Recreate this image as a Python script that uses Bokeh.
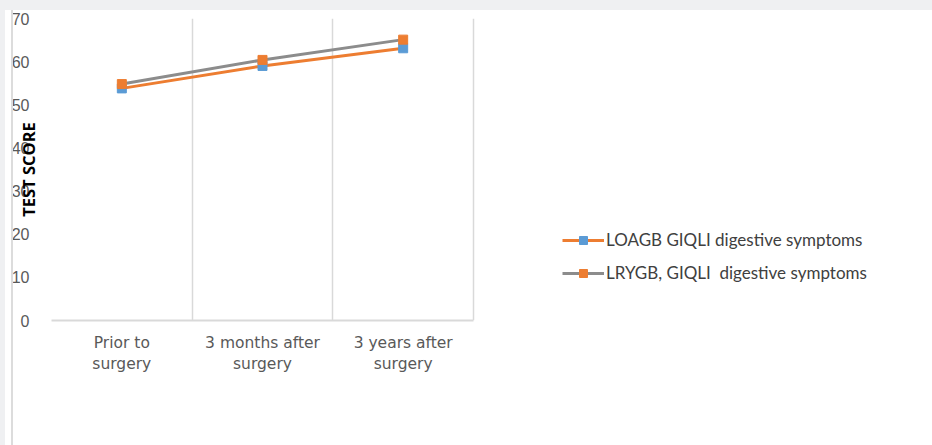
import math
from bokeh.plotting import figure
from bokeh.models import (Range1d, FixedTicker, Legend, LegendItem, Div)
from bokeh.layouts import column, row
from bokeh.embed import file_html
from bokeh.resources import INLINE

categories = ["Prior to\nsurgery", "3 months after\nsurgery", "3 years after\nsurgery"]
x_pos = [0.5, 1.5, 2.5]
loagb = [53.8, 59.0, 63.1]
lrygb = [54.8, 60.4, 65.1]
y_ticks = [0, 10, 20, 30, 40, 50, 60, 70]
series_names = ["LOAGB GIQLI digestive symptoms", "LRYGB, GIQLI  digestive symptoms"]

ORANGE = "#ED7D31"
BLUE = "#5B9BD5"
GRAY = "#8C8C8C"

FRAME_W = 875
CAT_W = 422 / 3.0

p = figure(frame_width=FRAME_W, frame_height=302, output_backend="svg", toolbar_location=None,
           x_range=Range1d(0, FRAME_W / CAT_W), y_range=Range1d(0, 70),
           min_border_left=37, min_border_top=8, min_border_right=7, min_border_bottom=125)
p.outline_line_color = None
p.background_fill_color = "white"
p.border_fill_color = "white"

p.ygrid.grid_line_color = None
p.xgrid.ticker = FixedTicker(ticks=[0, 1, 2, 3])
p.xgrid.grid_line_color = "#D9D9D9"
p.xgrid.grid_line_width = 1.5

p.xaxis.ticker = FixedTicker(ticks=x_pos)
p.xaxis.bounds = (0, 3)
p.xaxis.major_label_overrides = {x: c for x, c in zip(x_pos, categories)}
p.xaxis.axis_line_color = "#D9D9D9"
p.xaxis.axis_line_width = 2
p.xaxis.major_tick_line_color = None
p.xaxis.minor_tick_line_color = None
p.xaxis.major_label_text_font = "DejaVu Sans"
p.xaxis.major_label_text_font_size = "15.5px"
p.xaxis.major_label_text_color = "#595959"
p.xaxis.major_label_standoff = 7

p.yaxis.ticker = FixedTicker(ticks=y_ticks)
p.yaxis.axis_line_color = None
p.yaxis.major_tick_line_color = None
p.yaxis.minor_tick_line_color = None
p.yaxis.major_label_text_font = "Liberation Sans"
p.yaxis.major_label_text_font_size = "16px"
p.yaxis.major_label_text_color = "#595959"
p.yaxis.major_label_standoff = 16
p.yaxis.axis_label = "TEST SCORE"
p.yaxis.axis_label_standoff = -31
p.yaxis.axis_label_text_font = "Open Sans"
p.yaxis.axis_label_text_font_style = "bold"
p.yaxis.axis_label_text_font_size = "16.5px"
p.yaxis.axis_label_text_color = "#000000"

l1 = p.line(x_pos, loagb, line_color=ORANGE, line_width=3)
m1 = p.scatter(x_pos, loagb, marker="square", size=9, fill_color=BLUE, line_color=BLUE)
l2 = p.line(x_pos, lrygb, line_color=GRAY, line_width=3)
m2 = p.scatter(x_pos, lrygb, marker="square", size=9, fill_color=ORANGE, line_color=ORANGE)

legend = Legend(items=[LegendItem(label=series_names[0], renderers=[l1, m1]),
                       LegendItem(label=series_names[1], renderers=[l2, m2])],
                location=(511, 37), orientation="vertical",
                glyph_width=42, glyph_height=20, spacing=12, padding=0, margin=0,
                label_standoff=2, border_line_color=None, background_fill_alpha=0,
                label_text_font="Lato", label_text_font_size="17px",
                label_text_color="#404040")
p.add_layout(legend, "center")

top_band = Div(width=932, height=10, margin=0, styles={"background-color": "#EFF0F2"})
left1 = Div(width=5, height=435, margin=0, styles={"background-color": "#EFF0F2"})
left2 = Div(width=6, height=435, margin=0, styles={"background-color": "#FFFFFF"})
left3 = Div(width=2, height=435, margin=0, styles={"background-color": "#DCDCDC"})
layout = column(top_band, row(left1, left2, left3, p, spacing=0), spacing=0)

open("out.html", "w").write(file_html(layout, INLINE))
